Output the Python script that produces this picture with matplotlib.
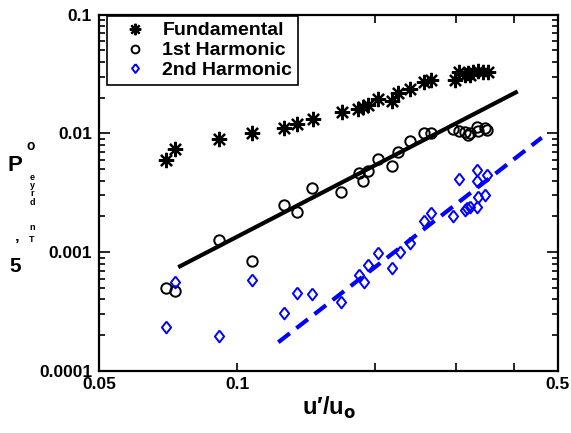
import matplotlib

matplotlib.use("Agg")
import matplotlib.pyplot as plt
import numpy as np
from matplotlib.ticker import FixedLocator, FixedFormatter, NullFormatter

plt.rcParams["font.family"] = ["Liberation Sans", "DejaVu Sans"]
plt.rcParams["font.weight"] = "bold"

# Fundamental
fund_x = [0.070, 0.0732, 0.0914, 0.1076, 0.1265, 0.1348, 0.146, 0.169, 0.1837,
          0.188, 0.1925, 0.203, 0.217, 0.224, 0.238, 0.2557, 0.265, 0.298,
          0.305, 0.3135, 0.318, 0.327, 0.335, 0.344, 0.352, 0.321]
fund_y = [0.00598, 0.00736, 0.0090, 0.01005, 0.01106, 0.0120, 0.01324, 0.01517,
          0.01597, 0.0168, 0.01736, 0.01938, 0.01875, 0.02203, 0.02366, 0.0269,
          0.0282, 0.0282, 0.0327, 0.031, 0.0321, 0.0331, 0.0337, 0.0331, 0.033,
          0.031]

# 1st harmonic
h1_x = [0.070, 0.0732, 0.0915, 0.1075, 0.1267, 0.135, 0.1458, 0.1682, 0.1839,
        0.188, 0.1928, 0.203, 0.2177, 0.2245, 0.238, 0.2557, 0.264, 0.2955,
        0.305, 0.3135, 0.318, 0.3215, 0.3326, 0.335, 0.3466, 0.350]
h1_y = [0.00050, 0.000475, 0.001266, 0.000845, 0.0025, 0.00216, 0.00346, 0.00319,
        0.0046, 0.00394, 0.00478, 0.0061, 0.00536, 0.00703, 0.00865, 0.01004,
        0.01016, 0.01085, 0.01056, 0.0102, 0.00971, 0.0100, 0.01128, 0.01056,
        0.01106, 0.0107]

# 2nd harmonic
h2_x = [0.070, 0.0732, 0.0915, 0.1075, 0.1265, 0.135, 0.1458, 0.1682, 0.1843,
        0.1885, 0.1926, 0.203, 0.2178, 0.226, 0.238, 0.2553, 0.265, 0.2955,
        0.305, 0.3135, 0.3175, 0.321, 0.3326, 0.3337, 0.335, 0.3337, 0.3466,
        0.350]
h2_y = [0.000235, 0.00056, 0.000197, 0.000582, 0.000308, 0.000454, 0.000445,
        0.00038, 0.000641, 0.000562, 0.000774, 0.00099, 0.000731, 0.001006,
        0.0012, 0.001815, 0.00213, 0.0020, 0.00415, 0.00228, 0.00235, 0.0024,
        0.00493, 0.00394, 0.00294, 0.00238, 0.00304, 0.00448]

# power-law fits y = a * x**b
fit1_a, fit1_b, fit1_range = 0.135, 2.0, (0.0744, 0.4085)
fit2_a, fit2_b, fit2_range = 0.094, 3.0, (0.1229, 0.4608)

x_major = [0.05, 0.1, 0.5]
x_minor = [0.2, 0.3, 0.4]
x_labels = ["0.05", "0.1", "0.5"]
y_major = [0.0001, 0.001, 0.01, 0.1]
y_labels = ["0.0001", "0.001", "0.01", "0.1"]

BLUE = "#0000ff"
# diamond a bit wider than matplotlib's thin 'd'
DIAMOND = [(0, 1), (0.78, 0), (0, -1), (-0.78, 0), (0, 1)]

fig = plt.figure(figsize=(5.71, 4.33), dpi=100)
ax = fig.add_axes([0.1734, 0.1432, 0.9772 - 0.1734, 0.9665 - 0.1432])
ax.set_xscale("log")
ax.set_yscale("log")
ax.set_xlim(0.05, 0.5)
ax.set_ylim(0.0001, 0.1)

ax.plot(fund_x, fund_y, linestyle="none", marker=(8, 2, 0), markersize=11,
        markeredgewidth=1.6, color="black", label="Fundamental")
ax.plot(h1_x, h1_y, linestyle="none", marker="o", markersize=7.5,
        markerfacecolor="none", markeredgecolor="black", markeredgewidth=1.4,
        label="1st Harmonic")
ax.plot(h2_x, h2_y, linestyle="none", marker=DIAMOND, markersize=8.5,
        markerfacecolor="none", markeredgecolor=BLUE, markeredgewidth=1.4,
        label="2nd Harmonic")

xf1 = np.geomspace(*fit1_range, 50)
ax.plot(xf1, fit1_a * xf1 ** fit1_b, color="black", linewidth=3, solid_capstyle="butt")
xf2 = np.geomspace(*fit2_range, 50)
ax.plot(xf2, fit2_a * xf2 ** fit2_b, color=BLUE, linewidth=3,
        dashes=(3.5, 2), dash_capstyle="butt")

ax.xaxis.set_major_locator(FixedLocator(x_major))
ax.xaxis.set_major_formatter(FixedFormatter(x_labels))
ax.xaxis.set_minor_locator(FixedLocator(x_minor))
ax.xaxis.set_minor_formatter(NullFormatter())
ax.yaxis.set_major_locator(FixedLocator(y_major))
ax.yaxis.set_major_formatter(FixedFormatter(y_labels))
ax.tick_params(which="both", direction="in", top=True, right=True, labelsize=12.5,
               width=1.2, color="black")
ax.tick_params(axis="x", which="both", length=6, pad=4)
ax.tick_params(axis="y", which="major", length=8, pad=5)
ax.tick_params(axis="y", which="minor", length=4)
for lab in ax.get_xticklabels() + ax.get_yticklabels():
    lab.set_fontweight("bold")
for sp in ax.spines.values():
    sp.set_linewidth(1.6)

leg = ax.legend(loc="upper left", bbox_to_anchor=(0.0174, 0.996), frameon=True,
                fancybox=False, edgecolor="black", framealpha=1,
                prop={"size": 14, "weight": "bold"}, markerscale=0.75,
                handlelength=2.3, handletextpad=0.25, borderpad=0.3,
                labelspacing=0.12, borderaxespad=0)
leg.get_frame().set_linewidth(1.2)

ax.set_xlabel("u\u2032/u$_\\mathbf{o}$", fontsize=17, fontweight="bold", labelpad=2)

# garbled y-axis label glyphs as they appear in the source
fig.text(15 / 571, 1 - 166 / 433, "P", fontsize=16, fontweight="bold",
         ha="center", va="center")
fig.text(31 / 571, 1 - 146 / 433, "o", fontsize=10, fontweight="bold",
         ha="center", va="center")
for ch, py in zip("eyrdnT", [177, 186, 194, 203, 228, 240]):
    fig.text(32 / 571, 1 - py / 433, ch, fontsize=6.5, fontweight="bold",
             ha="center", va="center")
fig.text(17 / 571, 1 - 246 / 433, "\u2019", fontsize=12, fontweight="bold",
         ha="center", va="center")
fig.text(15 / 571, 1 - 267 / 433, "5", fontsize=15, fontweight="bold",
         ha="center", va="center")

fig.savefig("out.png", dpi=100)
